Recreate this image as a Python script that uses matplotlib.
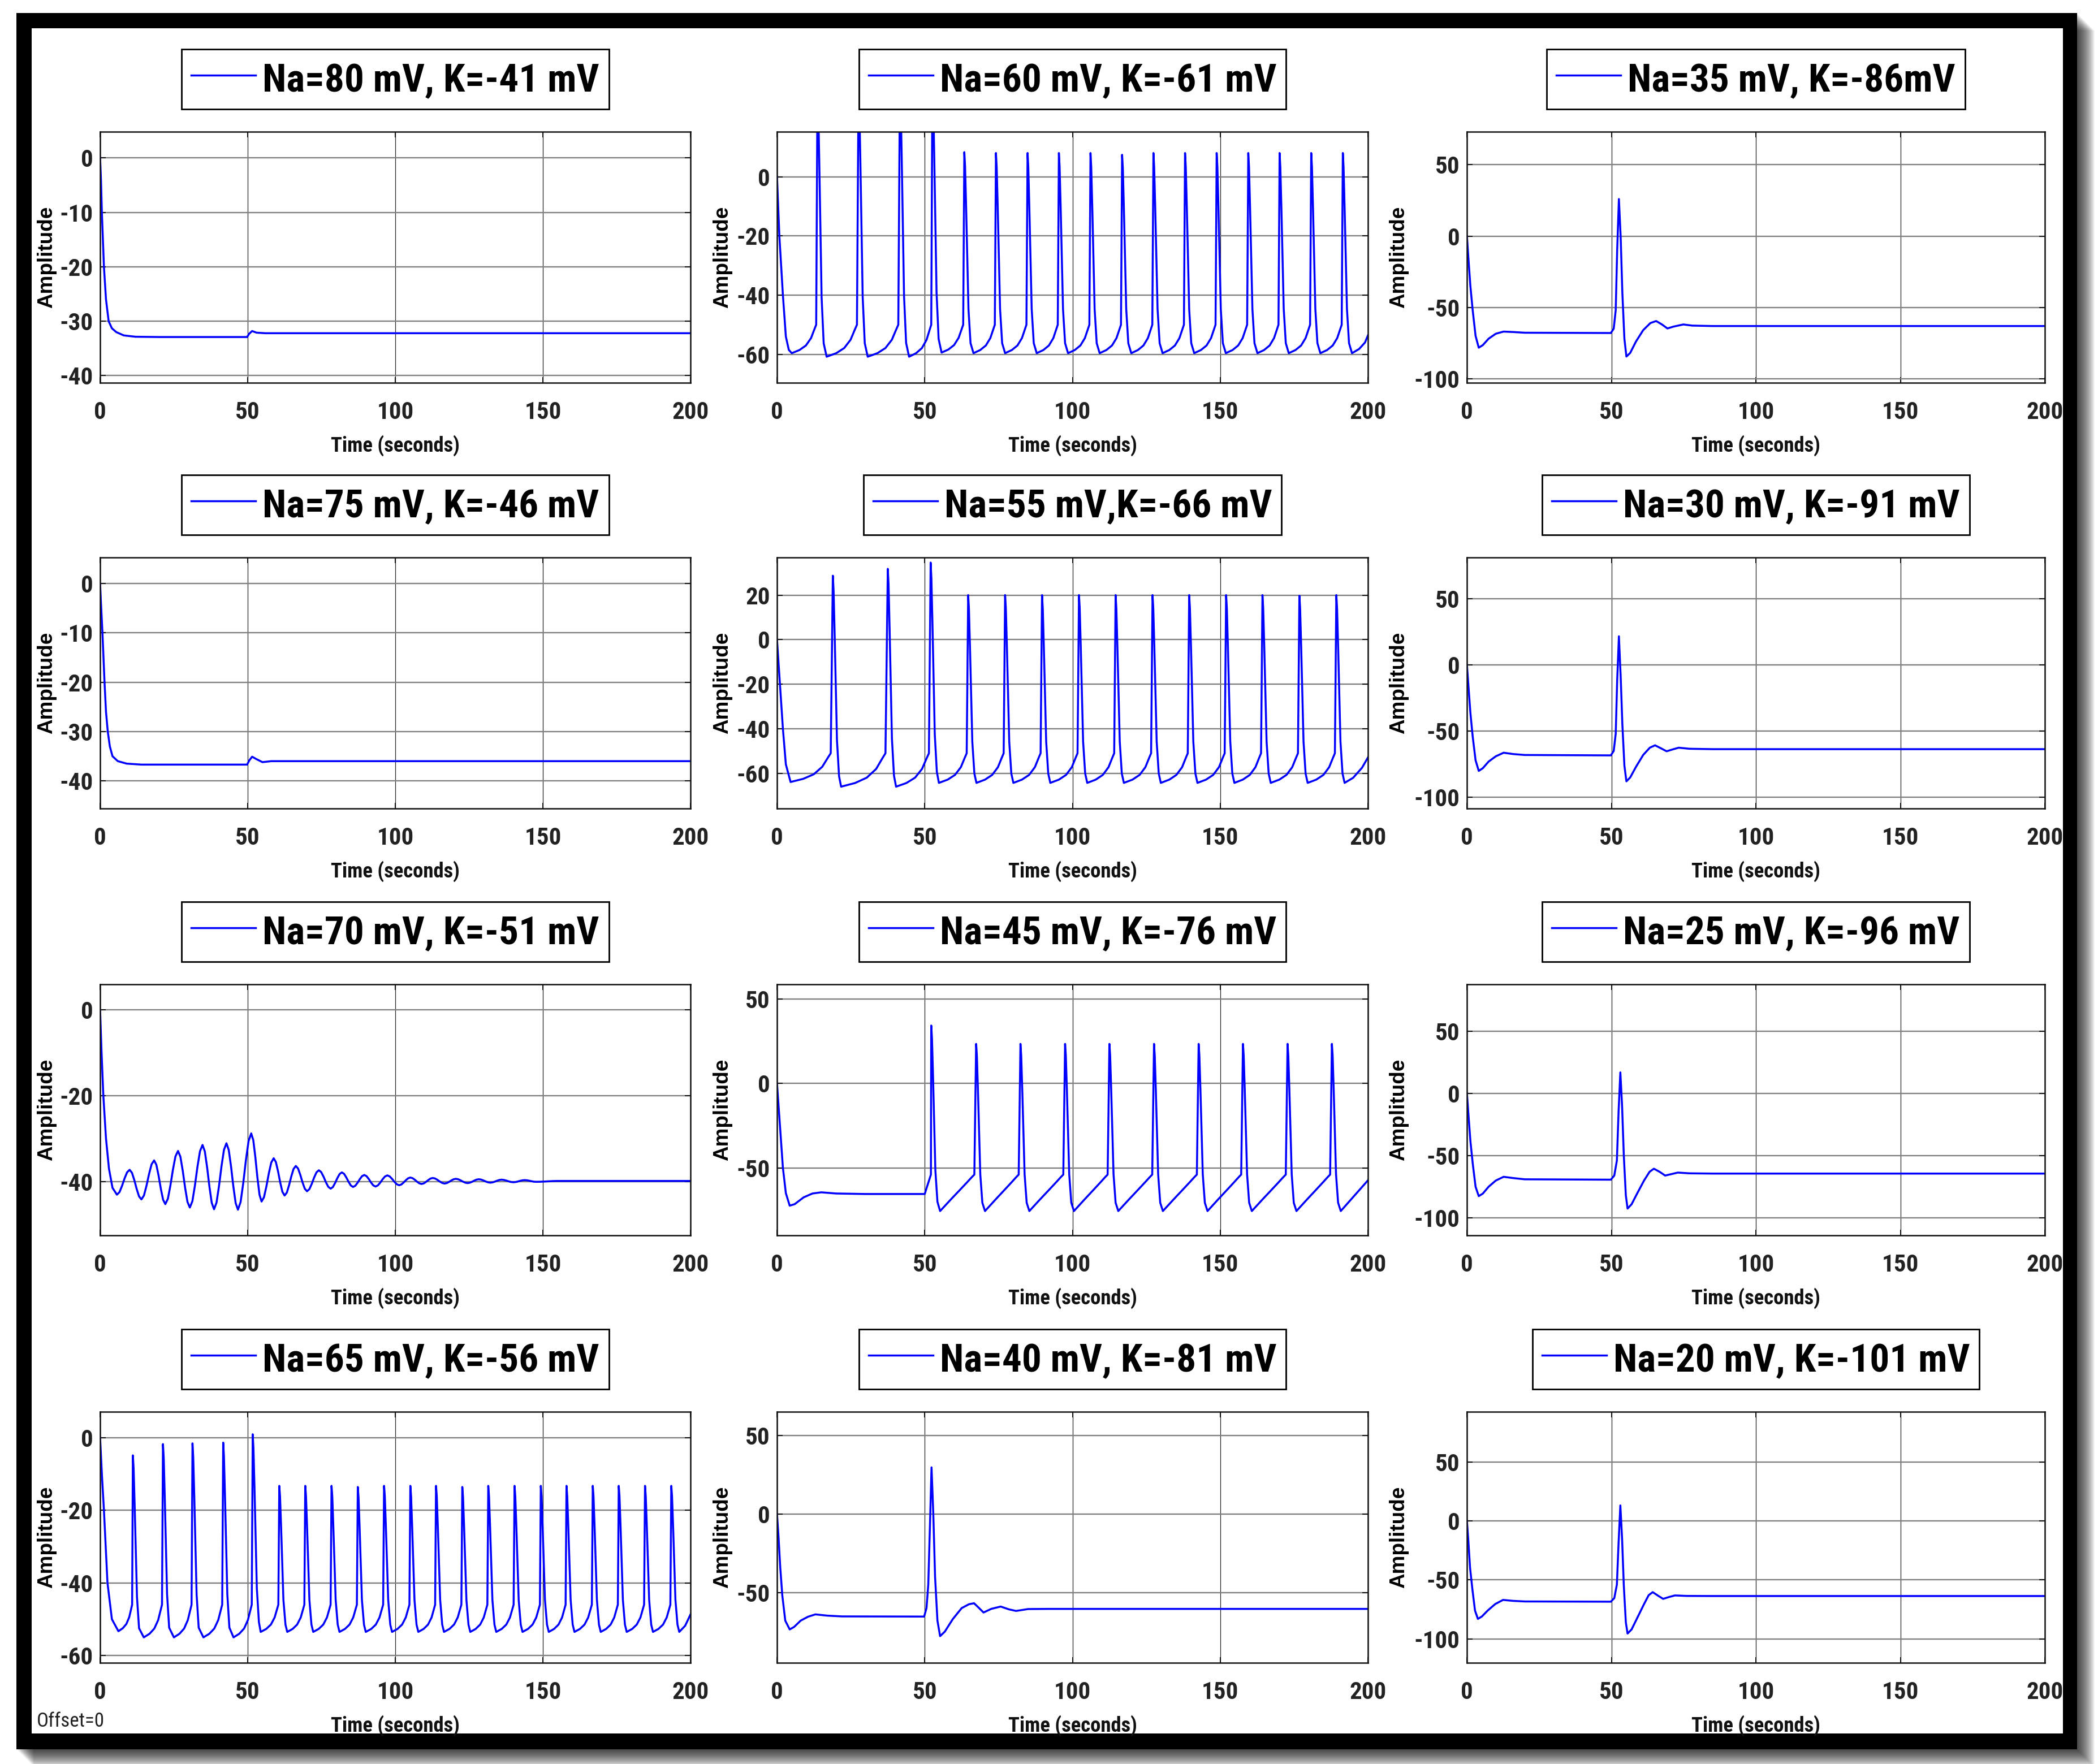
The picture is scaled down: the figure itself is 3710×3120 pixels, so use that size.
import os
import matplotlib
matplotlib.use("Agg")
import matplotlib.pyplot as plt
from matplotlib import font_manager
from matplotlib.font_manager import FontProperties
from matplotlib.textpath import TextPath
from matplotlib.patches import Rectangle

# ---------------- data ----------------
labels = ["Na=80 mV, K=-41 mV", "Na=60 mV, K=-61 mV", "Na=35 mV, K=-86mV",
          "Na=75 mV, K=-46 mV", "Na=55 mV,K=-66 mV", "Na=30 mV, K=-91 mV",
          "Na=70 mV, K=-51 mV", "Na=45 mV, K=-76 mV", "Na=25 mV, K=-96 mV",
          "Na=65 mV, K=-56 mV", "Na=40 mV, K=-81 mV", "Na=20 mV, K=-101 mV"]
x_ticks = [0, 50, 100, 150, 200]
y_ticks = [[-40, -30, -20, -10, 0], [-60, -40, -20, 0], [-100, -50, 0, 50],
           [-40, -30, -20, -10, 0], [-60, -40, -20, 0, 20], [-100, -50, 0, 50],
           [-40, -20, 0], [-50, 0, 50], [-100, -50, 0, 50],
           [-60, -40, -20, 0], [-50, 0, 50], [-100, -50, 0, 50]]
y_limits = [(-41.3, 4.8), (-69.6, 15.2), (-102.9, 73.2),
            (-45.6, 5.3), (-75.8, 36.9), (-108.4, 81.1),
            (-52.6, 6.0), (-90.0, 58.7), (-114.0, 87.5),
            (-62.0, 7.1), (-94.9, 65.3), (-120.3, 92.5)]

# panel 1: Na=80, K=-41
p1_t = [0, 0.3, 0.6, 1.3, 2.0, 2.9, 4.0, 5.5, 8, 12, 20, 49.8, 50.5, 51.5, 53, 56, 200]
p1_v = [0, -4, -10, -20, -26, -30, -31.3, -32.0, -32.6, -32.85, -32.9, -32.9, -32.3, -31.8, -32.1, -32.2, -32.2]

# panel 4: Na=75, K=-46
p4_t = [0, 0.3, 0.8, 1.5, 2.0, 2.6, 3.3, 4.2, 6, 9, 14, 49.8, 50.6, 51.5, 53, 55, 58, 200]
p4_v = [0, -4, -10, -20, -26, -30, -33, -35, -36, -36.5, -36.7, -36.7, -35.8, -35.1, -35.6, -36.2, -36.0, -36.0]

# single spike panels
p3_t = [0, 0.5, 1.2, 2.0, 3.0, 4.1, 5.5, 7.5, 10, 12.7, 16, 20, 49.8, 50.8, 51.5, 52.0, 52.6, 53.2, 53.8, 54.5, 55.2,
        56.5, 58.5, 61, 63.5, 65.5, 67.5, 69.4, 71.5, 74.9, 78, 85, 200]
p3_v = [0, -15, -35, -52, -70, -78.3, -76.5, -72, -68.5, -67, -67.3, -67.8, -68, -65, -52, -10, 26, 0, -40, -72, -84.5,
        -82, -74, -66, -61, -59.6, -62, -64.8, -63.5, -62.0, -62.8, -63.1, -63.1]

p6_t = [0, 0.5, 1.2, 2.0, 3.0, 4.1, 5.5, 7.5, 10, 12.7, 16, 20, 49.8, 50.8, 51.5, 52.0, 52.6, 53.2, 53.8, 54.5, 55.2,
        56.5, 58.5, 61, 63.3, 65.1, 67.2, 69.1, 71.2, 73.3, 77, 85, 200]
p6_v = [0, -15, -36, -54, -72, -80, -78, -73, -69, -66.3, -67.3, -68, -68.3, -65, -52, -12, 21.6, -8, -45, -76, -87.9,
        -85, -77, -68, -62.5, -60.7, -63, -65.2, -63.8, -62.5, -63.3, -63.6, -63.6]

p9_t = [0, 0.5, 1.2, 2.0, 3.0, 4.1, 5.5, 7.5, 10, 12.7, 16, 20, 49.8, 51.0, 51.9, 52.5, 53.1, 53.7, 54.3, 55.0, 55.6,
        57.0, 59.0, 61.3, 63.2, 64.7, 66.7, 68.6, 70.8, 73.0, 77, 85, 200]
p9_v = [0, -16, -38, -56, -75, -82.5, -80.5, -75, -70, -67, -68, -69, -69.3, -66, -54, -14, 16.8, -10, -50, -82, -92.5,
        -89, -80, -70, -63, -60.5, -63, -66, -64.8, -63.6, -64.2, -64.4, -64.4]

p11_t = [0, 0.5, 1.1, 1.8, 2.8, 4.3, 5.8, 8, 10.5, 13, 17, 22, 49.8, 50.6, 51.2, 51.8, 52.3, 52.9, 53.5, 54.3, 55.2,
         56.8, 59.5, 62.5, 65.0, 66.7, 68.4, 69.9, 72.5, 75.7, 78.5, 80.9, 85, 92, 200]
p11_v = [0, -14, -34, -52, -68, -73.6, -72, -68, -65.5, -64, -64.8, -65.3, -65.4, -60, -45, -5, 29.8, 0, -40, -68, -77.9,
         -75, -67, -60, -57.5, -56.9, -60, -62.8, -60.5, -59, -60.8, -61.8, -60.6, -60.5, -60.5]

p12_t = [0, 0.5, 1.1, 1.9, 2.8, 3.8, 5.2, 7.2, 9.8, 12.5, 16, 20, 49.8, 51.0, 51.9, 52.5, 53.1, 53.7, 54.3, 55.0, 55.6,
         57.0, 59.0, 61.2, 62.9, 64.3, 66.2, 67.9, 70.0, 72.0, 76, 85, 200]
p12_v = [0, -17, -40, -58, -76, -83.1, -81, -76, -70.5, -67, -67.8, -68.3, -68.5, -65.5, -54, -18, 13.1, -15, -55, -86, -95.5,
         -92, -82, -71, -63, -60.4, -63.5, -66.1, -64.5, -63.2, -63.6, -63.7, -63.7]

# panel 7: damped oscillation (Na=70, K=-51)
p7_start_t = [0, 0.5, 1.1, 2.0, 3.0, 4.2]
p7_start_v = [0, -10, -20, -30, -37, -41.5]
p7_trough_t = [5.7, 14.0, 22.1, 30.4, 38.6, 46.7, 54.7, 62.5, 70.1, 78.1, 85.7, 93.3, 101.3, 108.9, 116.7, 124.5, 132.2, 140.0, 147.7]
p7_trough_v = [-43.1, -44.2, -45.3, -46.1, -46.5, -46.6, -44.7, -43.3, -42.3, -41.7, -41.3, -41.2, -40.9, -40.6, -40.5, -40.4, -40.3, -40.2, -40.1]
p7_peak_t = [10.0, 18.3, 26.4, 34.7, 42.8, 51.2, 58.8, 66.3, 74.1, 81.9, 89.5, 97.3, 105.1, 112.7, 120.5, 128.3, 136.0, 143.8]
p7_peak_v = [-37.3, -35.1, -32.9, -31.5, -31.1, -28.8, -34.6, -36.4, -37.4, -37.9, -38.5, -38.6, -39.1, -39.2, -39.4, -39.5, -39.6, -39.7]
p7_end_t = [155, 200]
p7_end_v = [-39.9, -39.9]

# spike trains: start segment, spikes, troughs, threshold, tail
p2_start_t = [0, 0.8, 2.0, 3.0, 4.0, 5.0]
p2_start_v = [0, -20, -40, -54, -58.5, -59.6]
p2_spike_t = [13.7, 27.6, 41.6, 52.6, 63.4, 74.1, 84.8, 95.4, 106.1, 116.8, 127.4, 138.1, 148.8, 159.5, 170.1, 180.8, 191.5]
p2_spike_v = [30, 31, 32, 33, 8.3, 8, 8, 8, 8, 7.4, 8, 8, 8, 8, 8, 8, 8]
p2_trough_t = [16.8, 30.7, 44.7, 55.7, 66.5, 77.2, 87.9, 98.5, 109.2, 119.9, 130.5, 141.2, 151.9, 162.6, 173.2, 183.9, 194.6]
p2_trough_v = [-60.8, -60.8, -60.8, -59.4, -59.6, -59.6, -59.6, -59.6, -59.6, -59.6, -59.6, -59.6, -59.6, -59.6, -59.6, -59.6, -59.6]
p2_thr = -50
p2_rise = [0.11, 0.27, 0.53, 0.84, 1.0]
p2_end_t = [197, 199, 200]
p2_end_v = [-58.2, -56, -53.6]

p5_start_t = [0, 1.0, 2.0, 3.0, 4.6]
p5_start_v = [0, -20, -40, -56, -63.9]
p5_spike_t = [18.9, 37.5, 52.0, 64.7, 77.2, 89.7, 102.2, 114.6, 127.1, 139.5, 152.0, 164.3, 176.8, 189.3]
p5_spike_v = [28.7, 31.8, 34.6, 20, 20, 20, 20, 20, 20, 20, 20, 20, 19.7, 20]
p5_trough_t = [21.7, 40.3, 54.8, 67.5, 80.0, 92.5, 105.0, 117.4, 129.9, 142.3, 154.8, 167.1, 179.6, 192.1]
p5_trough_v = [-66, -66, -64.3, -64.3, -64.3, -64.3, -64.3, -64.3, -64.3, -64.3, -64.3, -64.3, -64.3, -64.3]
p5_thr = -51
p5_rise = [0.11, 0.27, 0.53, 0.84, 1.0]
p5_end_t = [195, 198, 200]
p5_end_v = [-62, -57.5, -52.9]

p8_start_t = [0, 1.0, 2.0, 3.0, 4.3, 6.0, 9.0, 12.0, 15.0, 20.0, 30.0, 50.0]
p8_start_v = [0, -25, -50, -65, -72.4, -71.5, -67.5, -65.2, -64.5, -65.2, -65.5, -65.5]
p8_spike_t = [52.2, 67.4, 82.4, 97.5, 112.5, 127.6, 142.7, 157.7, 172.8, 187.8]
p8_spike_v = [34.3, 23.4, 23.4, 23.4, 23.4, 23.4, 23.4, 23.4, 23.4, 23.4]
p8_trough_t = [55.2, 70.4, 85.4, 100.5, 115.5, 130.6, 145.7, 160.7, 175.8, 190.8]
p8_trough_v = [-75.6, -75.6, -75.6, -75.6, -75.6, -75.6, -75.6, -75.6, -75.6, -75.6]
p8_thr = -54
p8_rise = [0.32, 0.58, 0.79, 0.93, 1.0]
p8_end_t = [200]
p8_end_v = [-57.4]

p10_start_t = [0, 0.6, 1.3, 2.5, 4.0, 6.2]
p10_start_v = [0, -10, -20, -40, -50, -53.3]
p10_spike_t = [11.1, 21.3, 31.3, 41.7, 51.7, 60.7, 69.5, 78.4, 87.3, 96.2, 105.1, 113.8, 122.7, 131.5, 140.4,
               149.3, 158.0, 166.9, 175.7, 184.6, 193.5]
p10_spike_v = [-4.9, -1.8, -1.6, -1.4, 0.9, -13.3, -13.3, -13.3, -13.6, -13.3, -13.3, -13.3, -13.6, -13.3, -13.3,
               -13.3, -13.3, -13.3, -13.3, -13.3, -13.3]
p10_trough_t = [14.8, 25.0, 35.0, 45.2, 54.4, 63.4, 72.2, 81.1, 90.0, 98.9, 107.8, 116.5, 125.4, 134.2, 143.1,
                152.0, 160.7, 169.6, 178.4, 187.3, 196.2]
p10_trough_v = [-55, -55, -55, -55, -53.5, -53.5, -53.5, -53.5, -53.5, -53.5, -53.5, -53.5, -53.5, -53.5, -53.5,
                -53.5, -53.5, -53.5, -53.5, -53.5, -53.5]
p10_thr = -46
p10_rise = [0.11, 0.27, 0.53, 0.84, 1.0]
p10_end_t = [198.2, 200]
p10_end_v = [-51.8, -48.7]

# shape of one spike cycle (timing of the points along rise and fall)
rise_frac = [0.3, 0.55, 0.75, 0.88, 0.95]
fall_dt = [0.25, 0.6, 1.4, 2.1]
fall_frac = [0.93, 0.73, 0.22, 0.05]
# shape of one half swing of the damped oscillation
swing_frac = [0.2, 0.4, 0.6, 0.8]
swing_g = [0.1, 0.35, 0.65, 0.9]


def spike_train(start_t, start_v, spike_t, spike_v, trough_t, trough_v, thr, rise_g, end_t, end_v):
    t = list(start_t)
    v = list(start_v)
    for i in range(len(spike_t)):
        t0, v0 = t[-1], v[-1]
        ts = spike_t[i]
        for f, g in zip(rise_frac, rise_g):
            t.append(t0 + f * (ts - t0))
            v.append(v0 + g * (thr - v0))
        t.append(ts)
        v.append(spike_v[i])
        for dt, fr in zip(fall_dt, fall_frac):
            t.append(ts + dt)
            v.append(trough_v[i] + fr * (spike_v[i] - trough_v[i]))
        t.append(trough_t[i])
        v.append(trough_v[i])
    return t + list(end_t), v + list(end_v)


def oscillation(start_t, start_v, tr_t, tr_v, pk_t, pk_v, end_t, end_v):
    ext = []
    for i in range(len(tr_t)):
        ext.append((tr_t[i], tr_v[i]))
        if i < len(pk_t):
            ext.append((pk_t[i], pk_v[i]))
    ext += list(zip(end_t, end_v))
    t = list(start_t) + [ext[0][0]]
    v = list(start_v) + [ext[0][1]]
    for (t0, v0), (t1, v1) in zip(ext[:-1], ext[1:]):
        if t1 - t0 < 12:
            for f, g in zip(swing_frac, swing_g):
                t.append(t0 + f * (t1 - t0))
                v.append(v0 + g * (v1 - v0))
        t.append(t1)
        v.append(v1)
    return t, v


traces = [
    (p1_t, p1_v),
    spike_train(p2_start_t, p2_start_v, p2_spike_t, p2_spike_v, p2_trough_t, p2_trough_v, p2_thr, p2_rise, p2_end_t, p2_end_v),
    (p3_t, p3_v),
    (p4_t, p4_v),
    spike_train(p5_start_t, p5_start_v, p5_spike_t, p5_spike_v, p5_trough_t, p5_trough_v, p5_thr, p5_rise, p5_end_t, p5_end_v),
    (p6_t, p6_v),
    oscillation(p7_start_t, p7_start_v, p7_trough_t, p7_trough_v, p7_peak_t, p7_peak_v, p7_end_t, p7_end_v),
    spike_train(p8_start_t, p8_start_v, p8_spike_t, p8_spike_v, p8_trough_t, p8_trough_v, p8_thr, p8_rise, p8_end_t, p8_end_v),
    (p9_t, p9_v),
    spike_train(p10_start_t, p10_start_v, p10_spike_t, p10_spike_v, p10_trough_t, p10_trough_v, p10_thr, p10_rise, p10_end_t, p10_end_v),
    (p11_t, p11_v),
    (p12_t, p12_v),
]


# ---------------- fonts ----------------
def weight_num(w):
    if isinstance(w, str):
        return font_manager.weight_dict.get(w, 400)
    return w


def find_narrow(bold):
    prefs = ["liberation sans narrow", "arial narrow", "roboto condensed", "open sans condensed",
             "noto sans condensed", "dejavu sans condensed", "condensed", "narrow"]
    best = None
    for f in font_manager.fontManager.ttflist:
        if f.style != "normal":
            continue
        key = (f.name + " " + os.path.basename(f.fname)).lower()
        if f.stretch in ("condensed", "semi-condensed") and "condensed" not in key:
            key += " condensed"
        if "extra" in key or "ultra" in key or "semi" in key:
            continue
        w = weight_num(f.weight)
        if bold != (w >= 600):
            continue
        for rank, p in enumerate(prefs):
            if all(part in key for part in p.split()):
                if best is None or rank < best[0]:
                    best = (rank, f.fname)
                break
    return best[1] if best else None


nb = find_narrow(True)
nr = find_narrow(False)
bold_fp = FontProperties(fname=nb) if nb else FontProperties(family="Liberation Sans", weight="bold")
reg_fp = FontProperties(fname=nr) if nr else FontProperties(family="Liberation Sans")
wide_fp = FontProperties(family="Liberation Sans", weight="bold")

plt.rcParams["axes.unicode_minus"] = False


def fit(fp, text, target_px):
    # font size (pt at 100 dpi) that gives the ink width measured on the picture
    w = TextPath((0, 0), text, size=100, prop=fp).get_extents().width * 100 / 72
    return 100 * target_px / w


def with_size(fp, size):
    p = fp.copy()
    p.set_size(size)
    return p


leg_size = fit(bold_fp, labels[0], 590)
tick_size = fit(bold_fp, "100", 60)
xlab_size = fit(bold_fp, "Time (seconds)", 226)
ylab_size = fit(wide_fp, "Amplitude", 178)
off_size = fit(reg_fp, "Offset=0", 116)
leg_px = leg_size * 100 / 72
leg_pad_px = 17

# ---------------- figure ----------------
W, H = 3710, 3120
fig = plt.figure(figsize=(W / 100, H / 100), dpi=100)
fig.patch.set_facecolor("white")


def fx(px):
    return px / W


def fy(py):
    return 1 - py / H


# frame with shadow
for s in range(1, 32):
    fig.add_artist(Rectangle((fx(29 + s), fy(3094 + s)), fx(3673 - 29), (3094 - 23) / H,
                             transform=fig.transFigure, color="black", alpha=0.035, lw=0, zorder=-12))
fig.add_artist(Rectangle((fx(29), fy(3094)), fx(3673 - 29), (3094 - 23) / H,
                         transform=fig.transFigure, color="black", lw=0, zorder=-11))
fig.add_artist(Rectangle((fx(56), fy(3066)), fx(3648 - 56), (3066 - 50) / H,
                         transform=fig.transFigure, color="white", lw=0, zorder=-10))

col_left = [177, 1374, 2594]
col_right = [1221, 2419, 3616]
row_top = [233, 986, 1741, 2497]
ax_h = 444
ylabel_off = [94, 96, 120]

for k in range(12):
    r, c = divmod(k, 3)
    left, right, top = col_left[c], col_right[c], row_top[r]
    ax = fig.add_axes([fx(left), fy(top + ax_h), fx(right - left), ax_h / H])
    t, v = traces[k]
    ax.plot(t, v, color="#0000ff", lw=2.5, label=labels[k])
    ax.set_xlim(0, 200)
    ax.set_ylim(*y_limits[k])
    ax.set_xticks(x_ticks)
    ax.set_yticks(y_ticks[k])
    ax.grid(axis="y", color="#808080", lw=1.7)
    ax.grid(axis="x", color="#222222", lw=0.9)
    for sp in ax.spines.values():
        sp.set_linewidth(1.8)
        sp.set_color("#111111")
    ax.tick_params(direction="in", length=7, width=1.4, top=True, right=True, colors="#111111")
    ax.tick_params(axis="x", pad=23)
    ax.tick_params(axis="y", pad=9)
    for lbl in ax.get_xticklabels() + ax.get_yticklabels():
        lbl.set_fontproperties(with_size(bold_fp, tick_size))
        lbl.set_color("#222222")
    ax.set_xlabel("Time (seconds)", fontproperties=with_size(bold_fp, xlab_size), color="#111111")
    ax.xaxis.set_label_coords(0.5, -0.207)
    ax.set_ylabel("Amplitude", fontproperties=with_size(wide_fp, ylab_size), va="center")
    ax.yaxis.set_label_coords(-ylabel_off[c] / (right - left), 0.5)
    leg = ax.legend(loc="lower center", bbox_to_anchor=(0.5, 1 + 40 / ax_h), borderaxespad=0,
                    prop=with_size(bold_fp, leg_size), fancybox=False,
                    edgecolor="black", framealpha=1,
                    borderpad=leg_pad_px / leg_px,
                    handleheight=(113 - 2 * leg_pad_px) / leg_px,
                    handlelength=114 / leg_px, handletextpad=12 / leg_px)
    leg.get_frame().set_linewidth(2.0)

fig.text(fx(65), fy(3045), "Offset=0", ha="left", va="center",
         fontproperties=with_size(reg_fp, off_size), color="#222222")

fig.savefig("out.png", dpi=100)
